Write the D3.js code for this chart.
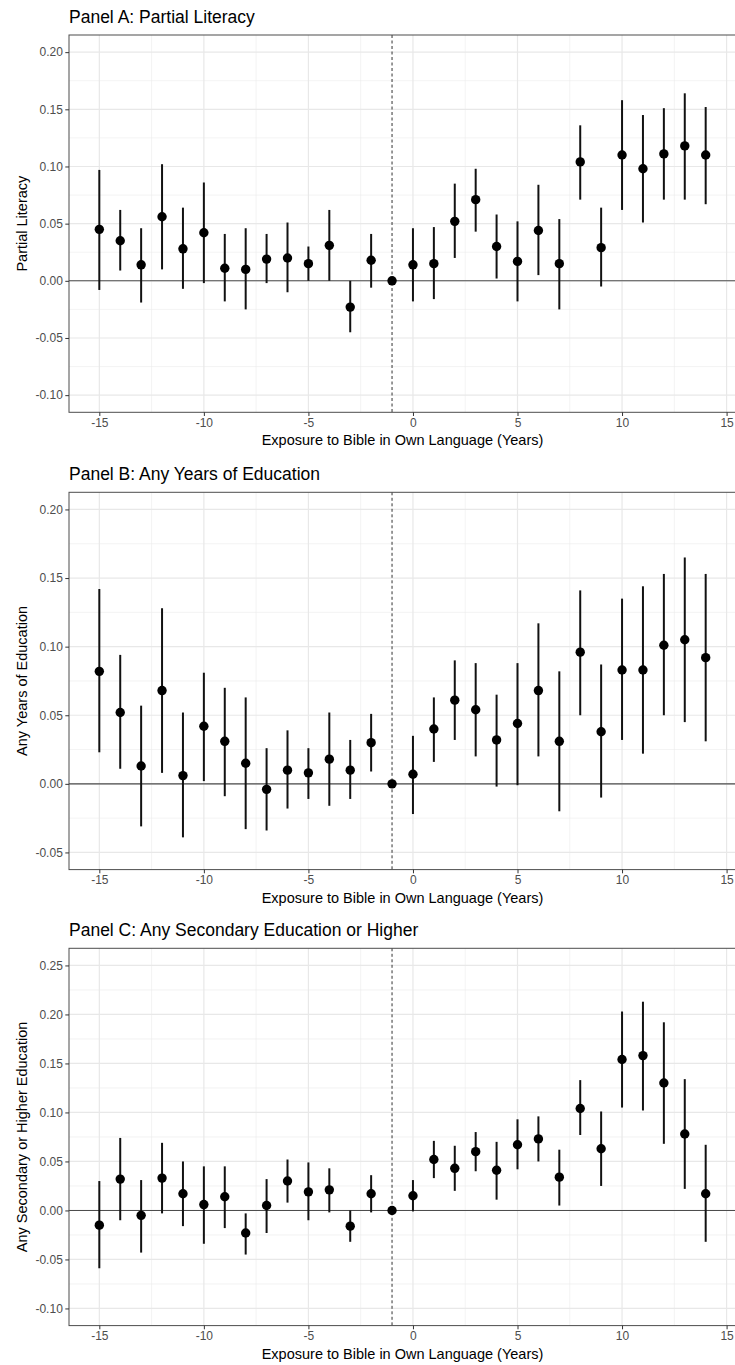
<!DOCTYPE html>
<html>
<head>
<meta charset="utf-8">
<script src="https://cdn.jsdelivr.net/npm/d3@7"></script>
<style>
  body { margin: 0; background: #fff; }
  text { font-family: "Liberation Sans", Arial, Helvetica, sans-serif; }
</style>
</head>
<body>
<div id="chart"></div>
<script>

// Event-time years relative to Bible translation
var years = [-15,-14,-13,-12,-11,-10,-9,-8,-7,-6,-5,-4,-3,-2,-1,0,1,2,3,4,5,6,7,8,9,10,11,12,13,14];

// Panel A: Partial Literacy
var litEst = [0.045,0.035,0.014,0.056,0.028,0.042,0.011,0.010,0.019,0.020,0.015,0.031,-0.023,0.018,0,0.014,0.015,0.052,0.071,0.030,0.017,0.044,0.015,0.104,0.029,0.110,0.098,0.111,0.118,0.110];
var litLo  = [-0.008,0.009,-0.019,0.010,-0.007,-0.002,-0.018,-0.025,-0.002,-0.010,0.000,0.000,-0.045,-0.006,0,-0.018,-0.016,0.020,0.043,0.002,-0.018,0.005,-0.025,0.071,-0.005,0.062,0.051,0.071,0.071,0.067];
var litHi  = [0.097,0.062,0.046,0.102,0.064,0.086,0.041,0.046,0.041,0.051,0.030,0.062,0.000,0.041,0,0.046,0.047,0.085,0.098,0.058,0.052,0.084,0.054,0.136,0.064,0.158,0.145,0.151,0.164,0.152];

// Panel B: Any Years of Education
var eduEst = [0.082,0.052,0.013,0.068,0.006,0.042,0.031,0.015,-0.004,0.010,0.008,0.018,0.010,0.030,0,0.007,0.040,0.061,0.054,0.032,0.044,0.068,0.031,0.096,0.038,0.083,0.083,0.101,0.105,0.092];
var eduLo  = [0.023,0.011,-0.031,0.008,-0.039,0.002,-0.009,-0.033,-0.034,-0.018,-0.011,-0.016,-0.011,0.009,0,-0.022,0.016,0.032,0.020,-0.002,-0.001,0.020,-0.020,0.050,-0.010,0.032,0.022,0.050,0.045,0.031];
var eduHi  = [0.142,0.094,0.057,0.128,0.052,0.081,0.070,0.063,0.026,0.039,0.026,0.052,0.032,0.051,0,0.035,0.063,0.090,0.088,0.065,0.088,0.117,0.082,0.141,0.087,0.135,0.144,0.153,0.165,0.153];

// Panel C: Any Secondary Education or Higher
var secEst = [-0.015,0.032,-0.005,0.033,0.017,0.006,0.014,-0.023,0.005,0.030,0.019,0.021,-0.016,0.017,0,0.015,0.052,0.043,0.060,0.041,0.067,0.073,0.034,0.104,0.063,0.154,0.158,0.130,0.078,0.017];
var secLo  = [-0.059,-0.010,-0.043,-0.003,-0.016,-0.034,-0.018,-0.045,-0.023,0.008,-0.010,-0.002,-0.032,-0.002,0,-0.001,0.033,0.020,0.040,0.011,0.042,0.050,0.005,0.077,0.025,0.105,0.102,0.068,0.022,-0.032];
var secHi  = [0.030,0.074,0.031,0.069,0.050,0.045,0.045,-0.003,0.032,0.052,0.049,0.043,0.000,0.036,0,0.031,0.071,0.066,0.080,0.070,0.093,0.096,0.062,0.133,0.101,0.203,0.213,0.192,0.134,0.067];

var panels = [
	{ title: "Panel A: Partial Literacy", ylab: "Partial Literacy", est: litEst, lo: litLo, hi: litHi, ylim: [-0.10, 0.20], top: 35 },
	{ title: "Panel B: Any Years of Education", ylab: "Any Years of Education", est: eduEst, lo: eduLo, hi: eduHi, ylim: [-0.05, 0.20], top: 492.3 },
	{ title: "Panel C: Any Secondary Education or Higher", ylab: "Any Secondary or Higher Education", est: secEst, lo: secLo, hi: secHi, ylim: [-0.10, 0.25], top: 948.3 }
];

var width = 735, height = 1365;
var panelH = 377.3;
var left = 69, right = 736;
var xlab = "Exposure to Bible in Own Language (Years)";

var svg = d3.select("#chart").append("svg")
	.attr("width", width)
	.attr("height", height)
	.style("background", "#fff");

// ggplot-style 5% expansion
function expand(lim) {
	var pad = (lim[1] - lim[0]) * 0.05;
	return [lim[0] - pad, lim[1] + pad];
}

// plain hyphen for negatives, like R
var fmt2 = d => d3.format(".2f")(d).replace("\u2212", "-");

var x = d3.scaleLinear()
	.domain(expand([-15, 14]))
	.range([left, right]);

var xMajor = d3.range(-15, 16, 5);
var xMinor = [-12.5, -7.5, -2.5, 2.5, 7.5, 12.5];

panels.forEach(function(p) {

	var y = d3.scaleLinear()
		.domain(expand(p.ylim))
		.range([p.top + panelH, p.top]);

	var yMajor = d3.range(p.ylim[0], p.ylim[1] + 0.001, 0.05).map(d => Math.round(d * 100) / 100);
	var yMinor = d3.range(p.ylim[0] + 0.025, p.ylim[1], 0.05).map(d => Math.round(d * 1000) / 1000);

	var g = svg.append("g");

	// Grid lines: minor then major
	g.selectAll(".yminor").data(yMinor).enter().append("line")
		.attr("x1", left).attr("x2", right)
		.attr("y1", d => y(d)).attr("y2", d => y(d))
		.attr("stroke", "#ebebeb").attr("stroke-width", 0.6);
	g.selectAll(".xminor").data(xMinor).enter().append("line")
		.attr("x1", d => x(d)).attr("x2", d => x(d))
		.attr("y1", p.top).attr("y2", p.top + panelH)
		.attr("stroke", "#ebebeb").attr("stroke-width", 0.6);
	g.selectAll(".ymajor").data(yMajor).enter().append("line")
		.attr("x1", left).attr("x2", right)
		.attr("y1", d => y(d)).attr("y2", d => y(d))
		.attr("stroke", "#e8e8e8").attr("stroke-width", 1.2);
	g.selectAll(".xmajor").data(xMajor).enter().append("line")
		.attr("x1", d => x(d)).attr("x2", d => x(d))
		.attr("y1", p.top).attr("y2", p.top + panelH)
		.attr("stroke", "#e8e8e8").attr("stroke-width", 1.2);

	// Reference lines
	g.append("line")
		.attr("x1", left).attr("x2", right)
		.attr("y1", y(0)).attr("y2", y(0))
		.attr("stroke", "#4d4d4d").attr("stroke-width", 1.1);
	g.append("line")
		.attr("x1", x(-1)).attr("x2", x(-1))
		.attr("y1", p.top).attr("y2", p.top + panelH)
		.attr("stroke", "#333").attr("stroke-width", 1)
		.attr("stroke-dasharray", "3,2.5");

	// Confidence intervals
	var idx = d3.range(years.length).filter(i => years[i] != -1);
	g.selectAll(".ci").data(idx).enter().append("line")
		.attr("x1", i => x(years[i])).attr("x2", i => x(years[i]))
		.attr("y1", i => y(p.lo[i])).attr("y2", i => y(p.hi[i]))
		.attr("stroke", "#111").attr("stroke-width", 2);

	// Point estimates
	g.selectAll(".pt").data(years).enter().append("circle")
		.attr("cx", d => x(d))
		.attr("cy", (d, i) => y(p.est[i]))
		.attr("r", 4.7)
		.attr("fill", "#000");

	// Panel border
	g.append("rect")
		.attr("x", left).attr("y", p.top)
		.attr("width", right - left).attr("height", panelH)
		.attr("fill", "none")
		.attr("stroke", "#4d4d4d").attr("stroke-width", 1);

	// Axes
	var yAxis = d3.axisLeft(y)
		.tickValues(yMajor)
		.tickFormat(fmt2)
		.tickSize(3.7)
		.tickPadding(2.5);
	var ya = g.append("g").attr("transform", "translate(" + left + ",0)").call(yAxis);

	var xAxis = d3.axisBottom(x)
		.tickValues(xMajor)
		.tickFormat(d => d < 0 ? "-" + Math.abs(d) : d)
		.tickSize(3.7)
		.tickPadding(2.5);
	var xa = g.append("g").attr("transform", "translate(0," + (p.top + panelH) + ")").call(xAxis);

	[ya, xa].forEach(function(a) {
		a.select(".domain").remove();
		a.selectAll(".tick line").attr("stroke", "#333");
		a.selectAll(".tick text")
			.attr("fill", "#4d4d4d")
			.style("font-size", "12px");
	});

	// Titles
	g.append("text")
		.attr("x", left)
		.attr("y", p.top - 12)
		.style("font-size", "17.5px")
		.attr("fill", "#000")
		.text(p.title);

	g.append("text")
		.attr("x", (left + right) / 2)
		.attr("y", p.top + panelH + 33)
		.attr("text-anchor", "middle")
		.style("font-size", "14.5px")
		.attr("fill", "#000")
		.text(xlab);

	g.append("text")
		.attr("transform", "translate(26.5," + (p.top + panelH / 2) + ") rotate(-90)")
		.attr("text-anchor", "middle")
		.style("font-size", "14.5px")
		.attr("fill", "#000")
		.text(p.ylab);

});

</script>
</body>
</html>
